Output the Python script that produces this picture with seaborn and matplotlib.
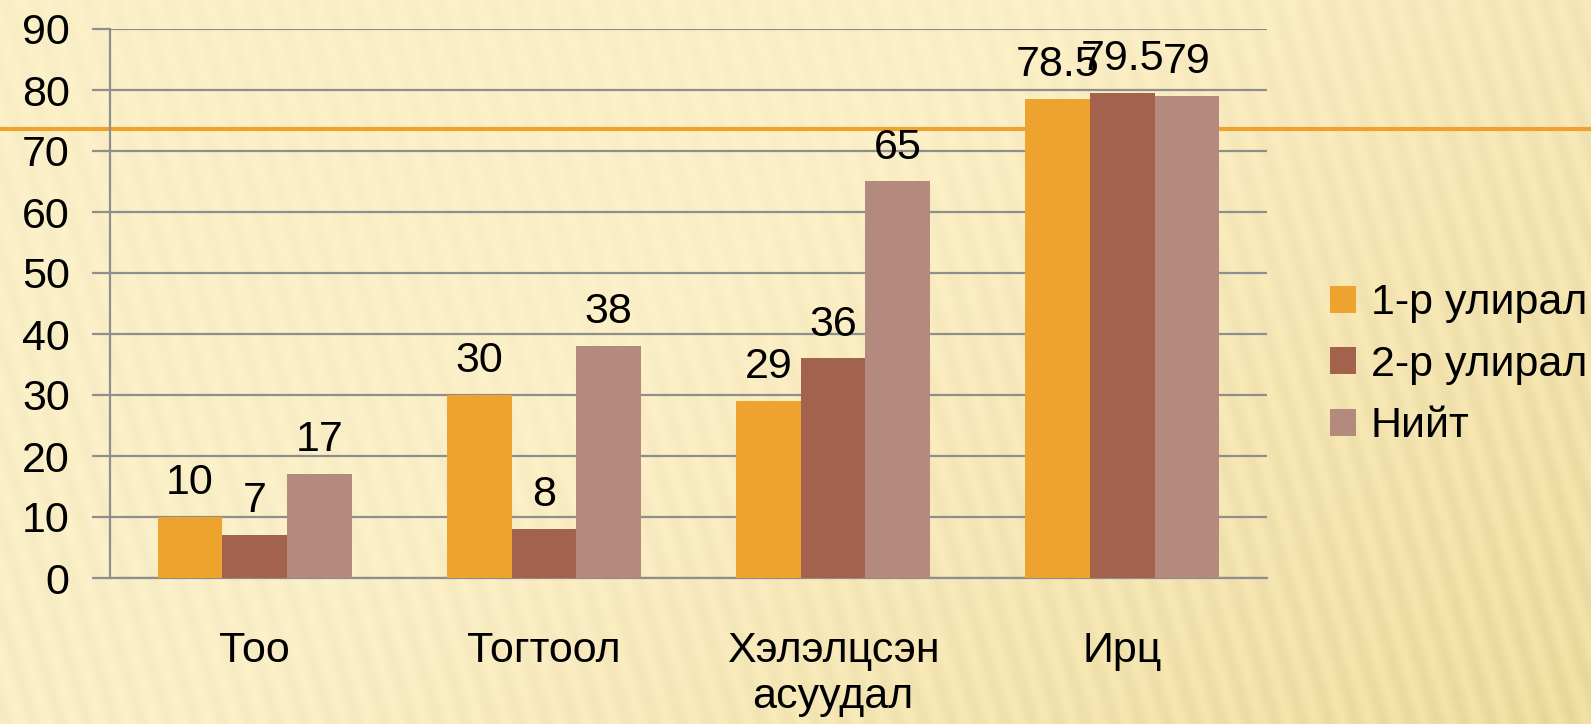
import numpy as np
import pandas as pd
import matplotlib
matplotlib.use("Agg")
import matplotlib.pyplot as plt
import seaborn as sns

# data
categories = ["Тоо", "Тогтоол", "Хэлэлцсэн\nасуудал", "Ирц"]
series = ["1-р улирал", "2-р улирал", "Нийт"]
season1 = [10, 30, 29, 78.5]
season2 = [7, 8, 36, 79.5]
total = [17, 38, 65, 79]
colors = ["#EEA32F", "#A3624D", "#B4897E"]
yticks = [0, 10, 20, 30, 40, 50, 60, 70, 80, 90]

df = pd.DataFrame({
    "category": categories * 3,
    "series": [s for s in series for _ in categories],
    "value": season1 + season2 + total,
})

sns.set_style("white")
plt.rcParams["font.family"] = ["Liberation Sans", "DejaVu Sans"]
plt.rcParams["text.color"] = "black"
plt.rcParams["xtick.labelcolor"] = "black"
plt.rcParams["ytick.labelcolor"] = "black"
FS = 31

fig = plt.figure(figsize=(15.91, 7.24), dpi=100)

# background texture (cream gradient with soft diagonal stripes)
H, W = 724, 1591
yy, xx = np.mgrid[0:H, 0:W]
xn, yn = xx / W, yy / H
t = np.clip(0.85 * xn + 0.45 * yn - 0.55, 0, 1)
stripes = 0.5 + 0.5 * np.sin(2 * np.pi * (xx + 0.3 * (H - yy)) / 27.0)
amp = np.clip(0.3 + 0.7 * t + 0.6 * np.clip(0.4 - xn, 0, 1) * yn, 0, 1)
light = np.array([253, 241, 201]) / 255.0
dark = np.array([240, 219, 152]) / 255.0
img = light[None, None, :] * (1 - t[..., None]) + dark[None, None, :] * t[..., None]
img = img - (stripes * amp * 0.05)[..., None]
bg = fig.add_axes([0, 0, 1, 1], zorder=-10)
bg.imshow(np.clip(img, 0, 1), aspect="auto", interpolation="bilinear")
bg.axis("off")

ax = fig.add_axes([110 / 1591, 1 - 578 / 724, (1267 - 110) / 1591, (578 - 29) / 724])
ax.set_facecolor("none")

sns.barplot(data=df, x="category", y="value", hue="series", palette=colors,
            width=0.67, saturation=1, ax=ax, zorder=3, linewidth=0)

for c in ax.containers:
    ax.bar_label(c, fmt="%g", padding=10, fontsize=FS, color="black")

ax.set_ylim(0, 90)
ax.set_xlim(-0.5, len(categories) - 0.5)
ax.set_yticks(yticks)
ax.yaxis.grid(True, color="#8E8E8E", linewidth=1.6, zorder=0)
ax.set_axisbelow(True)

# decorative orange rule across the slide
ax.axhline(73.6, xmin=-110 / 1157, xmax=(1591 - 110) / 1157, color="#EEA32F",
           linewidth=3, clip_on=False, zorder=2)

for side in ["top", "right"]:
    ax.spines[side].set_visible(False)
for side in ["left", "bottom"]:
    ax.spines[side].set_color("#8E8E8E")
    ax.spines[side].set_linewidth(1.6)

ax.set_xticks(np.arange(-0.5, len(categories)), minor=True)
ax.tick_params(axis="x", which="major", length=0, pad=38, labelsize=FS)
ax.tick_params(axis="x", which="minor", length=15, width=1.6, color="#8E8E8E", direction="out")
ax.tick_params(axis="y", length=13, width=1.6, color="#8E8E8E", pad=16, labelsize=FS, left=True)
ax.set_xlabel("")
ax.set_ylabel("")

handles, labels = ax.get_legend_handles_labels()
ax.legend(handles, labels, loc="center left", bbox_to_anchor=(0.836, 0.496),
          bbox_transform=fig.transFigure, frameon=False, fontsize=FS,
          handlelength=0.6, handleheight=0.6, handletextpad=0.35,
          labelspacing=0.5, borderpad=0, borderaxespad=0)

fig.savefig("out.png", dpi=100)
